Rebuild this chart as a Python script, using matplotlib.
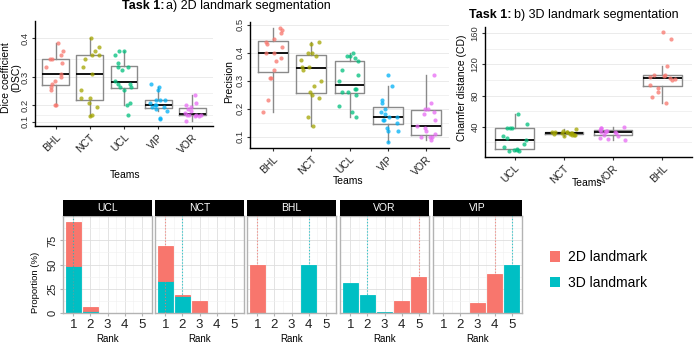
import numpy as np
import matplotlib
matplotlib.use("Agg")
import matplotlib.pyplot as plt
from matplotlib.patches import Patch

plt.rcParams['font.family'] = ['Liberation Sans', 'DejaVu Sans']

# ---------------- data ----------------
teams_2d = ["BHL", "NCT", "UCL", "VIP", "VOR"]
teams_3d = ["UCL", "NCT", "VOR", "BHL"]
team_colors = {"BHL": "#F8766D", "NCT": "#A3A500", "UCL": "#00BF7D",
               "VIP": "#00B0F6", "VOR": "#E76BF3"}

dsc_bhl = [0.39, 0.37, 0.36, 0.35, 0.35, 0.34, 0.33, 0.31, 0.30, 0.29, 0.28, 0.27, 0.26, 0.20, 0.20]
dsc_nct = [0.40, 0.38, 0.37, 0.36, 0.36, 0.35, 0.33, 0.31, 0.26, 0.23, 0.23, 0.21, 0.19, 0.15, 0.14]
dsc_ucl = [0.37, 0.37, 0.36, 0.34, 0.33, 0.33, 0.32, 0.29, 0.28, 0.28, 0.27, 0.27, 0.26, 0.21, 0.20, 0.15]
dsc_vip = [0.28, 0.27, 0.26, 0.22, 0.22, 0.22, 0.21, 0.20, 0.20, 0.19, 0.19, 0.18, 0.17, 0.13, 0.12]
dsc_vor = [0.24, 0.21, 0.20, 0.19, 0.18, 0.17, 0.16, 0.15, 0.15, 0.15, 0.15, 0.14, 0.14, 0.11]

prec_bhl = [0.49, 0.48, 0.47, 0.45, 0.44, 0.43, 0.42, 0.40, 0.40, 0.38, 0.37, 0.34, 0.31, 0.31, 0.23, 0.19]
prec_nct = [0.44, 0.43, 0.40, 0.40, 0.39, 0.375, 0.35, 0.35, 0.34, 0.30, 0.28, 0.26, 0.25, 0.24, 0.17, 0.14]
prec_ucl = [0.40, 0.39, 0.39, 0.38, 0.37, 0.34, 0.32, 0.30, 0.27, 0.27, 0.26, 0.26, 0.25, 0.21, 0.19, 0.17]
prec_vip = [0.32, 0.28, 0.23, 0.22, 0.20, 0.19, 0.18, 0.17, 0.17, 0.16, 0.16, 0.15, 0.13, 0.12, 0.12, 0.08]
prec_vor = [0.32, 0.22, 0.20, 0.20, 0.19, 0.18, 0.16, 0.14, 0.13, 0.12, 0.11, 0.10, 0.10, 0.10, 0.09]

cd_ucl = [57, 44, 38, 38, 38, 28, 26, 23, 18, 14, 12, 11, 10, 9, 9]
cd_nct = [37, 35, 34, 34, 33, 33, 32, 32, 32, 31, 31, 30, 30, 29, 28]
cd_vor = [40, 39, 38, 36, 35, 35, 34, 34, 33, 32, 30, 28, 26, 25, 23]
cd_bhl = [161, 152, 118, 107, 106, 105, 104, 103, 102, 100, 94, 90, 85, 78, 71]

dsc = {"BHL": dsc_bhl, "NCT": dsc_nct, "UCL": dsc_ucl, "VIP": dsc_vip, "VOR": dsc_vor}
prec = {"BHL": prec_bhl, "NCT": prec_nct, "UCL": prec_ucl, "VIP": prec_vip, "VOR": prec_vor}
cd = {"UCL": cd_ucl, "NCT": cd_nct, "VOR": cd_vor, "BHL": cd_bhl}

rank_teams = ["UCL", "NCT", "BHL", "VOR", "VIP"]
ranks = [1, 2, 3, 4, 5]
prop_2d_ucl = [46, 3.5, 0, 0, 0]
prop_2d_nct = [35.5, 1.8, 12.2, 0, 0]
prop_2d_bhl = [50, 0, 0, 0, 0]
prop_2d_vor = [0, 0, 0, 12.5, 37.5]
prop_2d_vip = [0, 0, 9.5, 40.5, 0]
prop_3d_ucl = [48, 2, 0, 0, 0]
prop_3d_nct = [33.3, 16.7, 0, 0, 0]
prop_3d_bhl = [0, 0, 0, 50, 0]
prop_3d_vor = [31.25, 18.75, 0.4, 0, 0]
prop_3d_vip = [0, 0, 0, 0, 50]
prop_2d = {"UCL": prop_2d_ucl, "NCT": prop_2d_nct, "BHL": prop_2d_bhl, "VOR": prop_2d_vor, "VIP": prop_2d_vip}
prop_3d = {"UCL": prop_3d_ucl, "NCT": prop_3d_nct, "BHL": prop_3d_bhl, "VOR": prop_3d_vor, "VIP": prop_3d_vip}
median_rank_2d = {"UCL": 1, "NCT": 1, "BHL": 1, "VOR": 5, "VIP": 4}
median_rank_3d = {"UCL": 1, "NCT": 2, "BHL": 4, "VOR": 2, "VIP": 5}

C2D, C3D = "#F8766D", "#00BFC4"

# ---------------- figure ----------------
W, H = 694, 343
fig = plt.figure(figsize=(W / 100, H / 100), dpi=100)


def px_axes(x0, y0, x1, y1):
    return fig.add_axes([x0 / W, 1 - y1 / H, (x1 - x0) / W, (y1 - y0) / H])


def ftext(x, y, s, **kw):
    return fig.text(x / W, 1 - y / H, s, **kw)


rng = np.random.default_rng(7)
GRID = "#EBEBEB"


def top_panel(ax, teams, data, ylim, majors, minors, labels):
    for i, t in enumerate(teams):
        vals = np.asarray(data[t], float)
        ax.boxplot(vals, positions=[i + 1], widths=0.78, showfliers=False, showcaps=False,
                   whis=1.5, manage_ticks=False,
                   boxprops=dict(color="#8a8a8a", lw=1.0),
                   whiskerprops=dict(color="#8a8a8a", lw=1.0),
                   medianprops=dict(color="black", lw=1.3))
        xj = (i + 1) + rng.uniform(-0.27, 0.27, len(vals))
        ax.scatter(xj, vals, s=9, color=team_colors[t], alpha=0.75, lw=0, zorder=3)
    ax.set_xlim(0.4, len(teams) + 0.6)
    ax.set_ylim(*ylim)
    ax.set_yticks(majors)
    ax.set_yticklabels(labels)
    ax.set_yticks(minors, minor=True)
    ax.tick_params(axis="y", which="minor", length=0)
    ax.grid(axis="y", which="major", color=GRID, lw=0.7)
    ax.grid(axis="y", which="minor", color=GRID, lw=0.5)
    ax.set_axisbelow(True)
    for s in ("top", "right"):
        ax.spines[s].set_visible(False)
    for s in ("left", "bottom"):
        ax.spines[s].set_color("black")
        ax.spines[s].set_linewidth(1.0)
    ax.tick_params(axis="y", which="major", length=2.5, color="#333333", labelsize=6.8,
                   labelcolor="#333333", pad=1.5)
    for lab in ax.get_yticklabels():
        lab.set_rotation(90)
        lab.set_va("center")
    ax.set_xticks(range(1, len(teams) + 1))
    ax.set_xticklabels(teams, rotation=45, ha="right", rotation_mode="anchor", fontsize=7.5,
                       color="#222222")
    ax.tick_params(axis="x", length=2.5, color="#333333", pad=2)
    ax.set_facecolor("none")


def fwd(v):
    v = np.asarray(v, float)
    return np.sign(v) * v ** 2


def inv(u):
    u = np.asarray(u, float)
    return np.sign(u) * np.sqrt(np.abs(u))


# DSC
ax1 = px_axes(35, 21, 213, 126)
ax1.set_yscale("function", functions=(fwd, inv))
top_panel(ax1, teams_2d, dsc, (0.05, 0.437), [0.1, 0.2, 0.3, 0.4], [0.15, 0.25, 0.35],
          ["0.1", "0.2", "0.3", "0.4"])

# Precision
ax2 = px_axes(250, 22, 449, 148)
top_panel(ax2, teams_2d, prec, (0.06, 0.51), [0.1, 0.2, 0.3, 0.4, 0.5],
          [0.15, 0.25, 0.35, 0.45], ["0.1", "0.2", "0.3", "0.4", "0.5"])

# Chamfer distance
ax3 = px_axes(485, 27, 692, 157)
top_panel(ax3, teams_3d, cd, (1.4, 168), [40, 80, 120, 160], [20, 60, 100, 140],
          ["40", "80", "120", "160"])

ftext(11, 78, "Dice coefficient\n(DSC)", rotation=90, ha="center", va="center", fontsize=7.5,
      linespacing=1.0, multialignment="center")
ftext(125, 175, "Teams", ha="center", va="center", fontsize=7.5)
ftext(229, 82, "Precision", rotation=90, ha="center", va="center", fontsize=7.5)
ftext(348, 181, "Teams", ha="center", va="center", fontsize=7.5)
ftext(462, 88, "Chamfer distance (CD)", rotation=90, ha="center", va="center", fontsize=7.5)
ftext(587, 183, "Teams", ha="center", va="center", fontsize=7.5)

ftext(164, 6, "Task 1:", ha="right", va="center", fontsize=9, fontweight="bold")
ftext(166, 6, "a) 2D landmark segmentation", ha="left", va="center", fontsize=9)
ftext(512, 15, "Task 1:", ha="right", va="center", fontsize=9, fontweight="bold")
ftext(514, 15, "b) 3D landmark segmentation", ha="left", va="center", fontsize=9)

# ---------------- rank panels ----------------
panel_x = [(63, 152), (155, 244), (247, 336), (340, 429), (433, 522)]
for k, (t, (x0, x1)) in enumerate(zip(rank_teams, panel_x)):
    ax = px_axes(x0, 216, x1, 313)
    v3 = np.asarray(prop_3d[t], float)
    v2 = np.asarray(prop_2d[t], float)
    m3 = v3 > 0
    m2 = v2 > 0
    r = np.asarray(ranks, float)
    ax.bar(r[m3], v3[m3], width=0.9, color=C3D, edgecolor=C3D, lw=0.6, zorder=2)
    ax.bar(r[m2], v2[m2], width=0.9, bottom=v3[m2], color=C2D, edgecolor=C2D, lw=0.6, zorder=2)
    ax.axvline(median_rank_2d[t], color=C2D, ls=(0, (1.2, 1.6)), lw=0.8, alpha=0.75, zorder=3)
    ax.axvline(median_rank_3d[t], color=C3D, ls=(0, (1.2, 1.6)), lw=0.8, alpha=0.75, zorder=3)
    ax.set_xlim(0.4, 5.6)
    ax.set_ylim(-0.5, 100.5)
    ax.set_xticks(ranks)
    ax.set_xticks([1.5, 2.5, 3.5, 4.5], minor=True)
    ax.set_yticks([0, 25, 50, 75])
    ax.set_yticks([12.5, 37.5, 62.5, 87.5], minor=True)
    ax.grid(which="major", color="#DEDEDE", lw=0.6)
    ax.grid(which="minor", color="#F0F0F0", lw=0.4)
    ax.set_axisbelow(True)
    for s in ax.spines.values():
        s.set_color("#B3B3B3")
        s.set_linewidth(1.0)
    ax.tick_params(which="minor", length=0)
    ax.tick_params(axis="x", which="major", length=2.5, color="#B3B3B3", labelsize=9.5,
                   labelcolor="#222222", pad=1.5)
    if k == 0:
        ax.tick_params(axis="y", which="major", length=2.5, color="#B3B3B3", labelsize=8,
                       labelcolor="#222222", pad=1.5)
        for lab in ax.get_yticklabels():
            lab.set_rotation(90)
            lab.set_va("center")
    else:
        ax.tick_params(axis="y", which="major", length=0, labelleft=False)
    ftext((x0 + x1) / 2, 339, "Rank", ha="center", va="center", fontsize=7)
    sax = px_axes(x0, 200, x1, 216)
    sax.set_facecolor("black")
    sax.set_xticks([])
    sax.set_yticks([])
    for s in sax.spines.values():
        s.set_visible(False)
    sax.text(0.5, 0.5, t, color="white", ha="center", va="center", fontsize=7.5,
             transform=sax.transAxes)

ftext(35, 282, "Proportion (%)", rotation=90, ha="center", va="center", fontsize=6.8)

handles = [Patch(facecolor=C2D, edgecolor="none"), Patch(facecolor=C3D, edgecolor="none")]
fig.legend(handles, ["2D landmark", "3D landmark"], loc="center left",
           bbox_to_anchor=(537 / W, 1 - 270 / H), frameon=False, fontsize=10,
           handlelength=0.72, handleheight=0.8, handletextpad=0.6, labelspacing=0.85)

fig.savefig("out.png", dpi=100)
